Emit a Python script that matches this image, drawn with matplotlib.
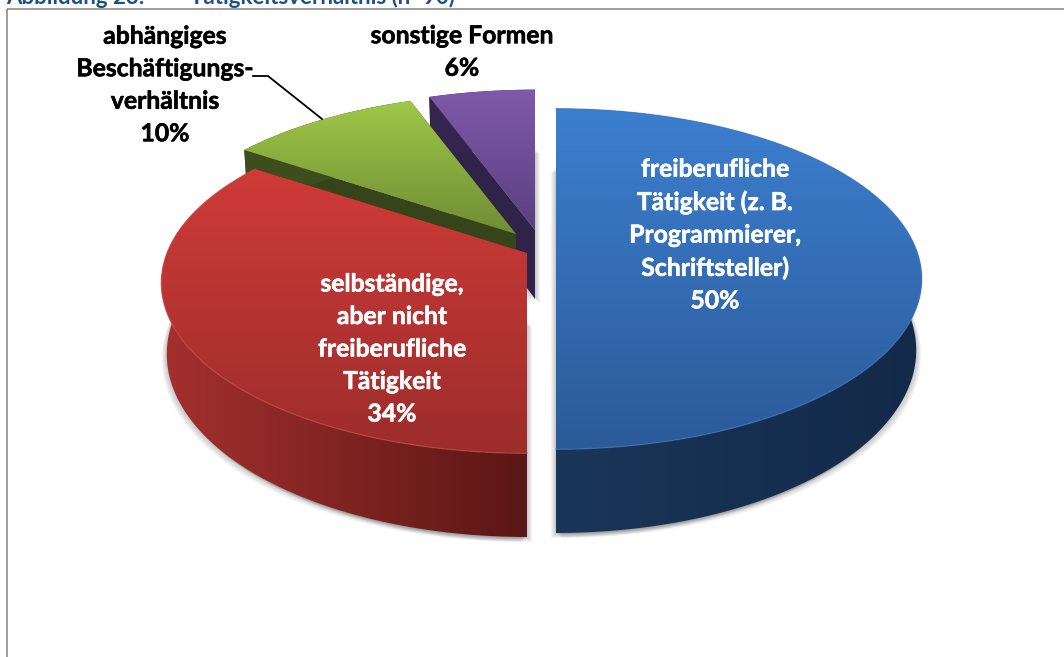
import numpy as np
import matplotlib
matplotlib.use('Agg')
import matplotlib.pyplot as plt
import matplotlib.patheffects as pe
from matplotlib.colors import to_rgb
from matplotlib.patches import Polygon, Rectangle

# answers per category (n=90), clockwise from 12 o'clock
names = ['freiberufliche\nTätigkeit (z. B.\nProgrammierer,\nSchriftsteller)',
         'selbständige,\naber nicht\nfreiberufliche\nTätigkeit',
         'abhängiges\nBeschäftigungs-\nverhältnis',
         'sonstige Formen']
values = [45, 31, 9, 5]

# layout of the exploded slices (pixels)
tips = [(556, 249), (527, 253), (516, 234), (535, 230)]
label_pos = [(715, 235), (392, 349), (165, 85), (462, 52)]
label_col = ['white', 'white', 'black', 'black']
RX, RY, PERSP, DEPTH, LOW_SCALE = 360, 165, 0.176, 69, 0.985

# colours: top face (top, bottom), wall (left, right), cut face
top_cols = [('#3C7FD0', '#2C5A98'), ('#CF3B39', '#9C2D2B'),
            ('#A0C848', '#6F8C34'), ('#8059AA', '#5A4080')]
wall_cols = [('#1A3658', '#13294A'), ('#A5302E', '#5A1715'),
             ('#3E4E1C', '#3E4E1C'), ('#33254E', '#33254E')]
cut_cols = ['#16304F', '#5A1715', '#36441A', '#30234A']
rim_cols = ['#3F78C2', '#CC4A46', None, None]


def project(t, tip, down=0.0):
    u, v = np.cos(t), np.sin(t)
    w = 1 + PERSP * v
    sx = LOW_SCALE if down else 1.0
    return np.column_stack([tip[0] + sx * RX * u / w, tip[1] - RY * v / w + down * DEPTH / w])


def grad_fill(ax, pts, c1, c2, horizontal, z):
    x0, y0 = pts.min(axis=0)
    x1, y1 = pts.max(axis=0)
    s = np.linspace(0, 1, 200)[:, None]
    img = (1 - s) * np.array(to_rgb(c1)) + s * np.array(to_rgb(c2))
    img = img[None, :, :] if horizontal else img[:, None, :]
    im = ax.imshow(img, extent=(x0, x1, y1, y0), aspect='auto', zorder=z, interpolation='bilinear')
    im.set_clip_path(Polygon(pts, closed=True, transform=ax.transData))


fig = plt.figure(figsize=(10.64, 6.57), dpi=100)
ax = fig.add_axes([0, 0, 1, 1])

plt.rcParams['font.family'] = ['Lato', 'DejaVu Sans']

# slice angles
shares = np.array(values) / sum(values)
ends = np.pi / 2 - 2 * np.pi * np.cumsum(shares)
starts = np.concatenate([[np.pi / 2], ends[:-1]])

# paint far slices first
z = 3
for i in [3, 2, 1, 0]:
    tip = np.array(tips[i], dtype=float)
    t = np.linspace(starts[i], ends[i], 200)
    top_arc = project(t, tip)
    low_arc = project(t, tip, 1)
    tip_low = tip + [0, DEPTH]

    # soft shadow from the bottom face of the slice
    floor = np.vstack([tip_low, low_arc])
    for k in range(1, 6):
        for sx in (-1, 1):
            ax.add_patch(Polygon(floor + [sx * k, k], closed=True, fc='black', ec='none',
                                 alpha=0.045, zorder=2))

    # cut faces
    for edge in [starts[i], ends[i]]:
        p = project(np.array([edge]), tip)
        q = project(np.array([edge]), tip, 1)
        face = np.vstack([tip, p, q, [tip_low]])
        ax.add_patch(Polygon(face, closed=True, fc=cut_cols[i], ec='none', zorder=z))
    z += 1

    # outer wall
    wall = np.vstack([top_arc, low_arc[::-1]])
    grad_fill(ax, wall, wall_cols[i][0], wall_cols[i][1], True, z)
    z += 1

    # top face
    face = np.vstack([tip, top_arc])
    grad_fill(ax, face, top_cols[i][0], top_cols[i][1], False, z)
    z += 1
    if rim_cols[i]:
        ax.plot(top_arc[:, 0], top_arc[:, 1], color=rim_cols[i], lw=1.0, alpha=0.6, zorder=z)
    z += 1

# leader line of the green slice
ax.plot([253, 268, 322], [76, 76, 119], color='black', lw=1.3, zorder=z)

# labels
for name, val, pos, col in zip(names, shares, label_pos, label_col):
    ax.text(pos[0], pos[1], f'{name}\n{val:.0%}', color=col, fontsize=17.8, fontweight='bold',
            ha='center', va='center', linespacing=1.5, zorder=z + 1,
            path_effects=[pe.withStroke(linewidth=0.4, foreground=col)])

# frame and clipped caption above it
ax.add_patch(Rectangle((6.5, 9), 1070, 700, fc='none', ec='#8C8C8C', lw=1.2, zorder=1))
ax.text(6, 4.5, 'Abbildung 23:', color='#1F4E86', fontsize=16, fontweight='bold', ha='left', va='baseline')
ax.text(190, 4.5, 'Tätigkeitsverhältnis (n=90)', color='#1F4E86', fontsize=16, fontweight='bold',
        ha='left', va='baseline')

ax.set_xlim(0, 1064)
ax.set_ylim(657, 0)
ax.axis('off')
fig.savefig('out.png', dpi=100)
